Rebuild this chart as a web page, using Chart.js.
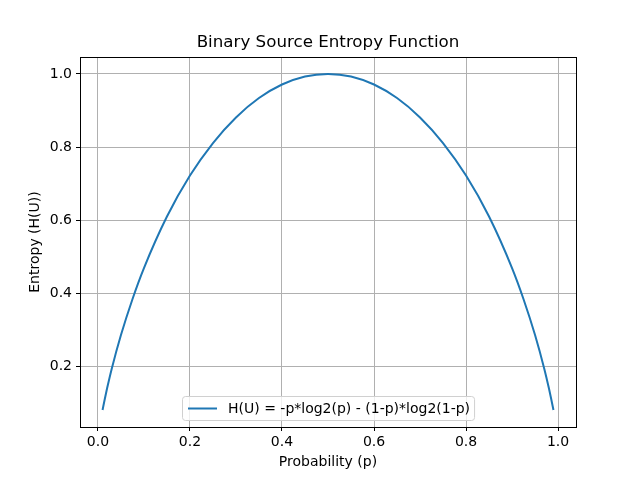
<!DOCTYPE html>
<html>
<head>
<meta charset="utf-8">
<script src="https://cdn.jsdelivr.net/npm/chart.js@4"></script>
<style>
  body { margin: 0; background: #fff; }
  #wrap { width: 640px; height: 480px; }
</style>
</head>
<body>
<div id="wrap"><canvas id="entropyChart" width="640" height="480"></canvas></div>
<script>
// values
const probs = [0.01, 0.015, 0.02, 0.03, 0.05, 0.075, 0.1, 0.15, 0.2, 0.25, 0.3, 0.35, 0.4, 0.45, 0.5,
               0.55, 0.6, 0.65, 0.7, 0.75, 0.8, 0.85, 0.9, 0.925, 0.95, 0.97, 0.98, 0.985, 0.99];
const entropy = [0.081, 0.112, 0.141, 0.194, 0.286, 0.384, 0.469, 0.610, 0.722, 0.811, 0.881, 0.934, 0.971, 0.993, 1.0,
                 0.993, 0.971, 0.934, 0.881, 0.811, 0.722, 0.610, 0.469, 0.384, 0.286, 0.194, 0.141, 0.112, 0.081];
const xTicks = [0.0, 0.2, 0.4, 0.6, 0.8, 1.0];
const yTicks = [0.2, 0.4, 0.6, 0.8, 1.0];
const legendLabel = 'H(U) = -p*log2(p) - (1-p)*log2(1-p)';

const FONT = 'DejaVu Sans';

// frame, title and legend drawn like matplotlib
const mplDecor = {
  id: 'mplDecor',
  afterDraw(chart) {
    const ctx = chart.ctx;
    const a = chart.chartArea;
    ctx.save();
    ctx.strokeStyle = '#000';
    ctx.lineWidth = 1;
    ctx.strokeRect(Math.round(a.left) + 0.5, Math.round(a.top) + 0.5,
                   Math.round(a.right - a.left), Math.round(a.bottom - a.top));

    ctx.fillStyle = '#000';
    ctx.font = '16.7px "' + FONT + '"';
    ctx.textAlign = 'center';
    ctx.textBaseline = 'bottom';
    ctx.fillText('Binary Source Entropy Function', (a.left + a.right) / 2, a.top - 6);

    // legend box
    ctx.font = '14px "' + FONT + '"';
    const tw = ctx.measureText(legendLabel).width;
    const w = tw + 50, h = 24;
    const x = Math.round((a.left + a.right) / 2 - w / 2);
    const y = Math.round(a.bottom - 7 - h);
    ctx.beginPath();
    ctx.roundRect(x + 0.5, y + 0.5, w, h, 3);
    ctx.fillStyle = 'rgba(255,255,255,0.8)';
    ctx.fill();
    ctx.strokeStyle = '#d0d0d0';
    ctx.stroke();
    ctx.beginPath();
    ctx.strokeStyle = '#1f77b4';
    ctx.lineWidth = 2;
    ctx.moveTo(x + 6, y + h / 2 + 0.5);
    ctx.lineTo(x + 35, y + h / 2 + 0.5);
    ctx.stroke();
    ctx.fillStyle = '#000';
    ctx.textAlign = 'left';
    ctx.textBaseline = 'middle';
    ctx.fillText(legendLabel, x + 46, y + h / 2 + 1);
    ctx.restore();
  }
};

const ctx = document.getElementById('entropyChart').getContext('2d');
const chart = new Chart(ctx, {
  type: 'line',
  data: {
    datasets: [{
      label: legendLabel,
      data: probs.map((p, i) => ({ x: p, y: entropy[i] })),
      borderColor: '#1f77b4',
      borderWidth: 2,
      pointRadius: 0,
      fill: false,
      cubicInterpolationMode: 'monotone'
    }]
  },
  options: {
    responsive: false,
    animation: false,
    layout: { padding: { top: 57, right: 64, left: 27, bottom: 9 } },
    plugins: {
      legend: { display: false },
      tooltip: { enabled: false }
    },
    scales: {
      x: {
        type: 'linear',
        min: -0.039,
        max: 1.039,
        afterBuildTicks: s => { s.ticks = xTicks.map(v => ({ value: v })); },
        afterFit: s => { s.height = 44; },
        ticks: {
          color: '#000',
          font: { family: FONT, size: 14 },
          padding: 3,
          maxRotation: 0,
          callback: v => v.toFixed(1)
        },
        grid: { color: '#b0b0b0', tickColor: '#000', tickLength: 4 },
        border: { display: false },
        title: { display: true, text: 'Probability (p)', color: '#000',
                 font: { family: FONT, size: 14 }, padding: { top: 2, bottom: 0 } }
      },
      y: {
        type: 'linear',
        min: 0.0346,
        max: 1.0462,
        afterBuildTicks: s => { s.ticks = yTicks.map(v => ({ value: v })); },
        afterFit: s => { s.width = 53; },
        ticks: {
          color: '#000',
          font: { family: FONT, size: 14 },
          padding: 4,
          callback: v => v.toFixed(1)
        },
        grid: { color: '#b0b0b0', tickColor: '#000', tickLength: 4 },
        border: { display: false },
        title: { display: true, text: 'Entropy (H(U))', color: '#000',
                 font: { family: FONT, size: 14 }, padding: { top: 0, bottom: 4 } }
      }
    }
  },
  plugins: [mplDecor]
});
</script>
</body>
</html>
